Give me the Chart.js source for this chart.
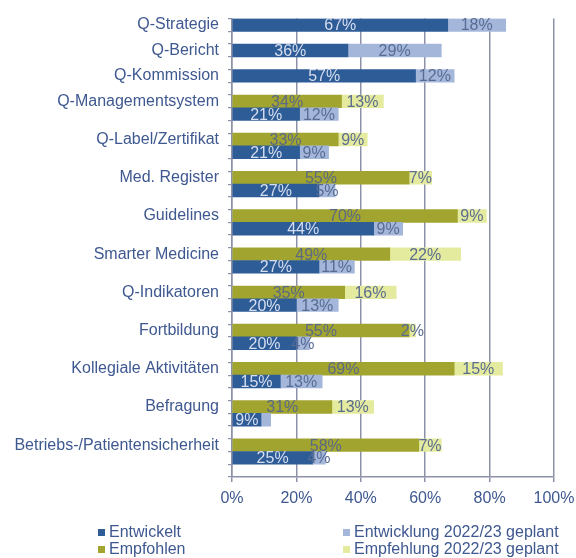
<!DOCTYPE html>
<html><head><meta charset="utf-8">
<script src="https://cdn.jsdelivr.net/npm/chart.js@4"></script>
<style>
html,body{margin:0;padding:0;background:#fff;}
#wrap{position:relative;width:576px;height:558px;}
#legend{position:absolute;left:0;top:0;width:576px;height:558px;pointer-events:none;font-family:"Liberation Sans",Arial,sans-serif;font-size:16px;color:#3E5890;}
.li{position:absolute;display:flex;align-items:center;white-space:nowrap;line-height:16px;height:16px;}
.sw{width:7px;height:7px;margin-right:4px;flex:none;}
</style></head><body>
<div id="wrap"><canvas id="c" width="576" height="558"></canvas><div id="legend"></div></div>
<script>
// ---- data ----
const categories = ['Q-Strategie','Q-Bericht','Q-Kommission','Q-Managementsystem','Q-Label/Zertifikat','Med. Register','Guidelines','Smarter Medicine','Q-Indikatoren','Fortbildung','Kollegiale Aktivitäten','Befragung','Betriebs-/Patientensicherheit'];
const entwickelt         = [67,36,57,21,21,27,44,27,20,20,15, 9,25];
const entwicklungGeplant = [18,29,12,12, 9, 5, 9,11,13, 4,13, 3, 4];
const empfohlen          = [null,null,null,34,33,55,70,49,35,55,69,31,58];
const empfehlungGeplant  = [null,null,null,13, 9, 7, 9,22,16, 2,15,13, 7];
const xTicks = [0,20,40,60,80,100];
const seriesNames = ['Entwickelt','Entwicklung 2022/23 geplant','Empfohlen','Empfehlung 2022/23 geplant'];
const hiddenLabels = ['Befragung|Entwicklung 2022/23 geplant'];

// ---- styles ----
const colors = ['#2E5C97','#A4B7DB','#A1A530','#E5EB9E'];
const labelColors = ['#D6DEF0','#586B93','#5B6982','#5A6C90'];
const textColor = '#3E5890';
const gridColor = '#8D91A7';
const FONT = '"Liberation Sans", Arial, sans-serif';

// ---- build row table (each category: [Empfohlen row], Entwickelt row, blank row) ----
const rowLabels = [], rowCat = [];
const rE = [], rEG = [], rM = [], rMG = [];
categories.forEach((c, i) => {
  if (empfohlen[i] != null) {
    rowLabels.push(c); rowCat.push(c);
    rE.push(null); rEG.push(null); rM.push(empfohlen[i]); rMG.push(empfehlungGeplant[i]);
    rowLabels.push(''); rowCat.push(c);
    rE.push(entwickelt[i]); rEG.push(entwicklungGeplant[i]); rM.push(null); rMG.push(null);
  } else {
    rowLabels.push(c); rowCat.push(c);
    rE.push(entwickelt[i]); rEG.push(entwicklungGeplant[i]); rM.push(null); rMG.push(null);
  }
  rowLabels.push(''); rowCat.push(c);
  rE.push(null); rEG.push(null); rM.push(null); rMG.push(null);
});
const rowData = [rE, rEG, rM, rMG];

const datasets = seriesNames.map((n, k) => ({
  label: n,
  data: rowData[k],
  backgroundColor: colors[k],
  borderWidth: 0,
  categoryPercentage: 1.0,
  barPercentage: 1.0
}));

const barLabels = {
  id: 'barLabels',
  afterDatasetsDraw(chart) {
    const ctx = chart.ctx;
    ctx.save();
    ctx.font = '16px ' + FONT;
    ctx.textAlign = 'center';
    ctx.textBaseline = 'middle';
    chart.data.datasets.forEach((ds, k) => {
      const meta = chart.getDatasetMeta(k);
      meta.data.forEach((el, j) => {
        const v = ds.data[j];
        if (v == null) return;
        if (hiddenLabels.includes(rowCat[j] + '|' + ds.label)) return;
        const p = el.getProps(['x','y','base'], true);
        ctx.fillStyle = labelColors[k];
        ctx.fillText(v + '%', (p.x + p.base) / 2, p.y + 1);
      });
    });
    ctx.restore();
  }
};

Chart.defaults.font.family = FONT;
const chart = new Chart(document.getElementById('c'), {
  type: 'bar',
  data: { labels: rowLabels, datasets },
  options: {
    indexAxis: 'y',
    responsive: false,
    devicePixelRatio: 1,
    animation: false,
    layout: { padding: { top: 13, right: 22, bottom: 47, left: 0 } },
    plugins: { legend: { display: false }, tooltip: { enabled: false } },
    scales: {
      x: {
        stacked: true,
        min: 0, max: 100,
        afterBuildTicks: s => { s.ticks = xTicks.map(v => ({ value: v })); },
        afterFit: s => { s.height = 34; s.paddingRight = 0; s.paddingLeft = 0; },
        ticks: { callback: v => v + '%', color: textColor, font: { size: 16 }, padding: 7, maxRotation: 0, minRotation: 0 },
        grid: { color: gridColor, lineWidth: 1.5, tickLength: 5, drawTicks: true },
        border: { color: gridColor, width: 1.5 }
      },
      y: {
        stacked: true,
        afterFit: s => { s.width = 232; },
        ticks: { autoSkip: false, color: textColor, font: { size: 16 }, padding: 9 },
        grid: { offset: true, drawOnChartArea: false, tickLength: 4, color: gridColor, lineWidth: 1.2 },
        border: { color: gridColor, width: 1.5 }
      }
    }
  },
  plugins: [barLabels]
});

// ---- legend (HTML, 2x2 grid) ----
const legendPos = [[98, 532], [343, 532], [98, 549], [343, 549]];
const lg = document.getElementById('legend');
chart.data.datasets.forEach((ds, k) => {
  const d = document.createElement('div');
  d.className = 'li';
  d.style.left = legendPos[k][0] + 'px';
  d.style.top = (legendPos[k][1] - 8) + 'px';
  const sw = document.createElement('span');
  sw.className = 'sw';
  sw.style.background = ds.backgroundColor;
  const t = document.createElement('span');
  t.textContent = ds.label;
  d.appendChild(sw); d.appendChild(t);
  lg.appendChild(d);
});
</script>
</body></html>
